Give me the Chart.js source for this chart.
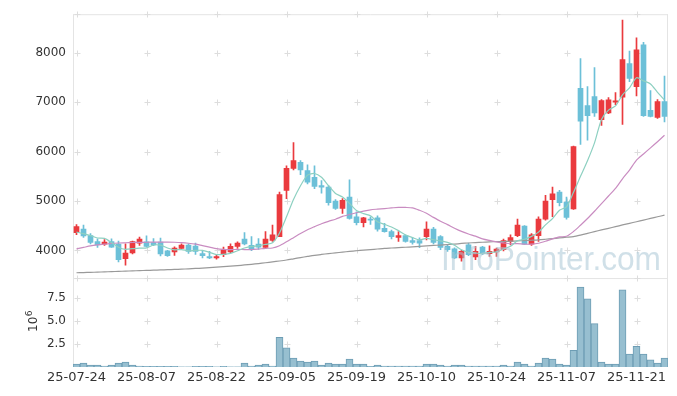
<!DOCTYPE html>
<html lang="en">
<head>
  <meta charset="UTF-8">
  <title>Stock chart</title>
  <script src="https://cdn.jsdelivr.net/npm/chart.js"></script>
  <style>
    html, body {
      margin: 0;
      padding: 0;
      background: #ffffff;
      overflow: hidden;
    }
    canvas { display: block; }
  </style>
</head>
<body>
  <canvas id="chart" width="677" height="396"></canvas>
<script>
// trading days shown on the x axis
const dates = [
  '25-07-24','25-07-25','25-07-28','25-07-29','25-07-30','25-07-31','25-08-01','25-08-04','25-08-05','25-08-06',
  '25-08-07','25-08-08','25-08-11','25-08-12','25-08-13','25-08-14','25-08-18','25-08-19','25-08-20','25-08-21',
  '25-08-22','25-08-25','25-08-26','25-08-27','25-08-28','25-08-29','25-09-01','25-09-02','25-09-03','25-09-04',
  '25-09-05','25-09-08','25-09-09','25-09-10','25-09-11','25-09-12','25-09-15','25-09-16','25-09-17','25-09-18',
  '25-09-19','25-09-22','25-09-23','25-09-24','25-09-25','25-09-26','25-09-29','25-09-30','25-10-01','25-10-02',
  '25-10-10','25-10-13','25-10-14','25-10-15','25-10-16','25-10-17','25-10-20','25-10-21','25-10-22','25-10-23',
  '25-10-24','25-10-27','25-10-28','25-10-29','25-10-30','25-10-31','25-11-03','25-11-04','25-11-05','25-11-06',
  '25-11-07','25-11-10','25-11-11','25-11-12','25-11-13','25-11-14','25-11-17','25-11-18','25-11-19','25-11-20',
  '25-11-21','25-11-24','25-11-25','25-11-26','25-11-27'
];

const opens = [
  4360,4433,4300,4180,4127,4180,4127,3833,3947,4147,
  4173,4160,4167,3993,3967,4040,4107,4087,3933,3873,
  3847,3913,3967,4080,4227,4100,4127,4060,4200,4280,
  5213,5660,5780,5613,5480,5313,5280,5000,4847,5080,
  4680,4560,4633,4660,4447,4380,4260,4300,4200,4200,
  4280,4433,4280,4080,4033,3847,4113,3867,4067,3933,
  3967,4013,4180,4300,4493,4127,4300,4633,5027,5180,
  4980,4840,7280,6933,7113,6647,6780,7000,7100,7780,
  7313,8160,6833,6693,7013
];
const highs = [
  4520,4513,4340,4233,4220,4233,4187,4133,4190,4267,
  4293,4240,4247,4000,4073,4133,4133,4147,3980,3980,
  3900,4067,4133,4173,4360,4280,4240,4380,4513,5180,
  5713,6180,5820,5733,5713,5413,5313,5027,5047,5427,
  4780,4667,4680,4700,4547,4413,4380,4313,4260,4253,
  4580,4467,4300,4113,4050,4000,4147,4080,4080,4093,
  4047,4227,4313,4633,4500,4340,4680,5113,5280,5213,
  5080,6113,7880,7313,7700,7053,7093,7193,8660,8033,
  8300,8213,7233,7053,7527
];
const lows = [
  4320,4260,4133,4060,4100,4060,3767,3700,3930,4100,
  4067,4093,3887,3880,3900,4040,3940,3920,3847,3833,
  3820,3873,3953,4040,4113,3993,4020,4047,4180,4280,
  5047,5627,5533,5347,5247,5160,4913,4827,4747,4633,
  4513,4473,4527,4387,4367,4233,4180,4167,4127,4053,
  4213,4133,4013,3980,3830,3780,3893,3813,3913,3880,
  3880,3987,4113,4280,4120,4100,4180,4613,4680,4900,
  4633,4827,6147,6233,6713,6527,6767,6947,6547,7413,
  7127,6713,6700,6673,6600
];
const closes = [
  4480,4293,4160,4113,4166,4067,3813,3947,4180,4227,
  4080,4113,3927,3893,4047,4107,3980,3980,3893,3847,
  3873,4013,4080,4147,4133,4033,4067,4227,4313,5127,
  5660,5820,5627,5380,5293,5280,4967,4847,5013,4647,
  4560,4660,4613,4427,4380,4280,4300,4180,4160,4147,
  4433,4160,4060,4013,3847,3980,3913,3980,3947,3980,
  4027,4200,4260,4513,4127,4313,4633,5000,5147,4967,
  4667,6100,6613,6727,6780,7033,7047,7027,7860,7480,
  8060,6727,6713,7013,6713
];

// moving averages
const ma5 = [
  4370,4340,4300,4250,4242,4160,4064,4021,4035,4047,
  4049,4109,4105,4048,4012,4017,3991,4001,4001,3961,
  3915,3921,3941,3992,4049,4081,4092,4121,4155,4353,
  4679,5029,5309,5523,5556,5480,5309,5153,5080,4951,
  4807,4745,4699,4581,4528,4472,4400,4313,4260,4213,
  4244,4216,4192,4163,4103,4012,3963,3947,3933,3960,
  3969,4027,4083,4196,4225,4283,4369,4517,4644,4812,
  4883,5176,5499,5815,6177,6651,6840,6923,7149,7289,
  7495,7431,7368,7199,7045
];
const ma20 = [
  4030,4060,4090,4110,4125,4140,4150,4155,4160,4163,
  4165,4167,4168,4168,4165,4158,4145,4125,4095,4066,
  4035,4021,4017,4019,4017,4016,4028,4042,4049,4094,
  4173,4258,4343,4418,4480,4539,4588,4631,4687,4727,
  4762,4794,4821,4835,4847,4859,4871,4869,4861,4812,
  4751,4668,4589,4521,4449,4384,4331,4288,4234,4201,
  4174,4151,4134,4138,4125,4127,4144,4185,4234,4273,
  4285,4382,4510,4645,4792,4945,5101,5254,5449,5624,
  5826,5952,6075,6200,6329
];
const maLong = [
  3547,3551,3556,3560,3565,3570,3575,3580,3585,3590,
  3595,3600,3605,3610,3615,3620,3627,3634,3641,3650,
  3660,3670,3680,3692,3705,3718,3733,3750,3767,3785,
  3805,3830,3855,3878,3900,3918,3935,3950,3965,3980,
  3993,4005,4016,4028,4040,4048,4056,4064,4072,4080,
  4090,4100,4108,4115,4127,4140,4150,4158,4165,4172,
  4177,4180,4186,4192,4198,4205,4213,4225,4238,4252,
  4266,4280,4310,4345,4380,4415,4447,4480,4515,4548,
  4580,4613,4647,4680,4713
];

// volume in millions of shares
const volumes = [
  0.32,0.43,0.21,0.21,0.10,0.21,0.43,0.54,0.21,0.10,
  0.08,0.08,0.08,0.08,0.08,0.03,0.03,0.08,0.08,0.08,
  0.03,0.08,0.03,0.03,0.43,0.10,0.21,0.32,0.10,3.21,
  2.07,0.96,0.64,0.54,0.64,0.21,0.43,0.32,0.32,0.86,
  0.32,0.32,0.07,0.21,0.10,0.10,0.10,0.10,0.10,0.10,
  0.32,0.32,0.21,0.10,0.21,0.21,0.10,0.10,0.10,0.10,
  0.10,0.21,0.10,0.54,0.32,0.10,0.43,0.96,0.86,0.32,
  0.21,1.82,8.68,7.39,4.71,0.54,0.32,0.32,8.36,1.39,
  2.25,1.39,0.79,0.43,0.96
];

const priceTicks = [4000, 5000, 6000, 7000, 8000];
const volTicks = [2.5, 5.0, 7.5];

const UP = '#ea3a3e';
const DOWN = '#6cc0d8';
const candleColors = closes.map((c, i) => c >= opens[i] ? UP : DOWN);
const tickFont = { family: 'DejaVu Sans', size: 12 };

// small "+" marks where grid lines would cross, plus the panel frame
const gridCrosses = {
  id: 'gridCrosses',
  beforeDatasetsDraw(chart) {
    const c = chart.ctx;
    const x = chart.scales.x, y = chart.scales.y, yv = chart.scales.yVol;
    const area = chart.chartArea;
    c.save();
    c.strokeStyle = '#e4e4e4';
    c.lineWidth = 1;
    c.beginPath();
    c.moveTo(area.left + 0.5, area.top);
    c.lineTo(area.left + 0.5, area.bottom);
    c.moveTo(area.left, area.top + 0.5);
    c.lineTo(area.right, area.top + 0.5);
    c.moveTo(area.right - 0.5, area.top);
    c.lineTo(area.right - 0.5, area.bottom);
    c.moveTo(area.left, y.bottom + 0.5);
    c.lineTo(area.right, y.bottom + 0.5);
    c.stroke();

    c.strokeStyle = '#dddddd';
    const ys = [area.top, y.bottom]
      .concat(priceTicks.map(v => y.getPixelForValue(v)))
      .concat(volTicks.map(v => yv.getPixelForValue(v)));
    c.beginPath();
    for (let i = 0; i < dates.length; i += 10) {
      const px = Math.round(x.getPixelForValue(i)) + 0.5;
      ys.forEach(py => {
        py = Math.round(py) + 0.5;
        c.moveTo(px - 3, py); c.lineTo(px + 3, py);
        c.moveTo(px, py - 3); c.lineTo(px, py + 3);
      });
    }
    c.stroke();
    c.restore();
  },
  afterDraw(chart) {
    const c = chart.ctx;
    // watermark
    c.save();
    c.font = '34px "Liberation Sans"';
    c.fillStyle = 'rgba(170, 198, 214, 0.55)';
    c.textBaseline = 'alphabetic';
    const txt = 'InfoPointer.com';
    const w = c.measureText(txt).width;
    c.translate(441, 270);
    c.scale(220 / w, 1);
    c.fillText(txt, 0, 0);
    c.restore();

    // 10^6 unit label of the volume axis
    c.save();
    c.fillStyle = '#333333';
    c.translate(37, 332);
    c.rotate(-Math.PI / 2);
    c.font = '12px "DejaVu Sans"';
    c.fillText('10', 0, 0);
    const w10 = c.measureText('10').width;
    c.font = '9px "DejaVu Sans"';
    c.fillText('6', w10 + 0.5, -5);
    c.restore();
  }
};

new Chart(document.getElementById('chart'), {
  type: 'bar',
  data: {
    labels: dates,
    datasets: [
      {
        type: 'line', label: 'MA5', data: ma5, yAxisID: 'y',
        borderColor: '#8dd0c1', borderWidth: 1.2, pointRadius: 0, tension: 0.25, order: 0
      },
      {
        type: 'line', label: 'MA20', data: ma20, yAxisID: 'y',
        borderColor: '#c98cc1', borderWidth: 1.2, pointRadius: 0, tension: 0.25, order: 0
      },
      {
        type: 'line', label: 'MA60', data: maLong, yAxisID: 'y',
        borderColor: '#9a9a9a', borderWidth: 1.2, pointRadius: 0, tension: 0.25, order: 0
      },
      {
        label: 'body', data: opens.map((o, i) => [o, closes[i]]), yAxisID: 'y',
        backgroundColor: candleColors, barThickness: 5, minBarLength: 1, grouped: false, order: 1
      },
      {
        label: 'wick', data: lows.map((l, i) => [l, highs[i]]), yAxisID: 'y',
        backgroundColor: candleColors, barThickness: 1, grouped: false, order: 2
      },
      {
        label: 'volume', data: volumes, yAxisID: 'yVol',
        backgroundColor: '#97bfd0', borderColor: '#6d9db4', borderWidth: 1,
        barPercentage: 1, categoryPercentage: 1, grouped: false, order: 3
      }
    ]
  },
  options: {
    responsive: false,
    animation: false,
    layout: { padding: { top: 10, right: 9, left: 0, bottom: 0 } },
    plugins: {
      legend: { display: false },
      tooltip: { enabled: false }
    },
    scales: {
      x: {
        offset: true,
        grid: { display: false, drawTicks: false },
        border: { display: false },
        ticks: {
          autoSkip: false, maxRotation: 0, minRotation: 0, padding: 3,
          color: '#333333', font: { family: 'DejaVu Sans', size: 13 },
          callback: (v, i) => i % 10 === 0 ? dates[i] : ''
        },
        afterFit: s => { s.height = 29; }
      },
      // listed first so that it sits below the price panel in the stack
      yVol: {
        position: 'left', stack: 'panels', stackWeight: 90,
        min: 0, max: 9.65,
        grid: { display: false, drawTicks: false },
        border: { display: false },
        afterBuildTicks: s => { s.ticks = volTicks.map(v => ({ value: v })); },
        ticks: { padding: 7, color: '#333333', font: tickFont, callback: v => v.toFixed(1) },
        afterFit: s => { s.width = 73; }
      },
      y: {
        position: 'left', stack: 'panels', stackWeight: 267,
        min: 3440, max: 8780,
        grid: { display: false, drawTicks: false },
        border: { display: false },
        afterBuildTicks: s => { s.ticks = priceTicks.map(v => ({ value: v })); },
        ticks: { padding: 7, color: '#333333', font: tickFont, callback: v => String(v) },
        afterFit: s => { s.width = 73; }
      }
    }
  },
  plugins: [gridCrosses]
});
</script>
</body>
</html>
